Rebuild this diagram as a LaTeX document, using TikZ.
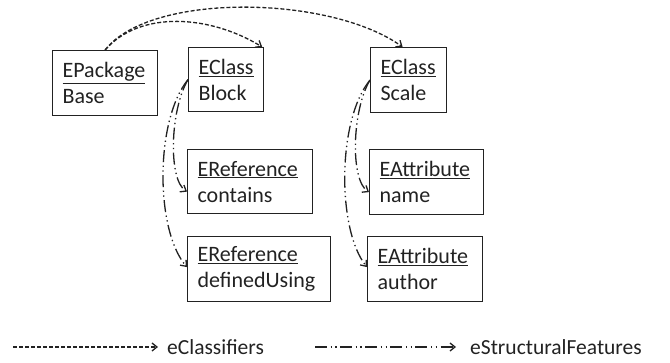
\documentclass[tikz,border=0pt]{standalone}
\usepackage{fontspec}
\setmainfont{Carlito}
\usetikzlibrary{arrows.meta}
\definecolor{ink}{HTML}{222222}
\tikzset{
  box/.style={draw=ink, line width=1.2pt, inner xsep=10pt, inner ysep=0pt, align=left, anchor=north west,
    font=\fontsize{22}{26}\selectfont, text=ink, minimum height=64pt},
  cls/.style={draw=ink, line width=1.3pt, dash pattern=on 4pt off 2pt, -{Straight Barb[length=5pt,width=8pt]}},
  feat/.style={draw=ink, line width=1.3pt, dash pattern=on 12pt off 3.5pt on 1.3pt off 3.5pt on 1.3pt off 3.5pt, -{Straight Barb[length=5pt,width=8pt]}},
  legend/.style={font=\fontsize{21.5}{24}\selectfont, text=ink, anchor=west, inner sep=0pt}
}
\begin{document}
\begin{tikzpicture}[x=1pt,y=-1pt]
\useasboundingbox (0,0) rectangle (670,363);
\node[box, text width=85pt, minimum height=65pt] (pkg) at (52,50) {\underline{EPackage}\\Base};
\node[box, text width=55pt] (block) at (188,47) {\underline{EClass}\\Block};
\node[box, text width=56pt, minimum height=65pt] (scale) at (370,47) {\underline{EClass}\\Scale};
\node[box, text width=105pt] (contains) at (187,149) {\underline{EReference}\\contains};
\node[box, text width=123pt, minimum height=65pt] (defined) at (187,236) {\underline{EReference}\\definedUsing};
\node[box, text width=94pt, minimum height=65pt] (name) at (369,149) {\underline{EAttribute}\\name};
\node[box, text width=95pt, minimum height=65pt] (author) at (367,236) {\underline{EAttribute}\\author};

\draw[cls] (pkg.north) .. controls (140,10) and (210,15) .. ([xshift=-2pt]block.north east);
\draw[cls] (pkg.north) .. controls (150,-8) and (330,-5) .. ([xshift=-6pt]scale.north);

\draw[feat] (block.west) .. controls (170,110) and (168,180) .. ([yshift=-10pt]contains.west);
\draw[feat] (block.west) .. controls (155,120) and (155,230) .. ([yshift=2pt]defined.west);
\draw[feat] (scale.west) .. controls (352,110) and (350,180) .. ([yshift=-10pt]name.west);
\draw[feat] (scale.west) .. controls (337,120) and (337,230) .. ([yshift=2pt]author.west);

\coordinate (c1) at (13,347);
\coordinate (c2) at (158,347);
\node[legend] (t1) at (167,347) {eClassifiers};
\draw[cls] (c1) -- (c2);
\coordinate (d1) at (315,347);
\coordinate (d2) at (456,347);
\node[legend] (t2) at (470,347) {eStructuralFeatures};
\draw[feat] (d1) -- (d2);
\end{tikzpicture}
\end{document}
